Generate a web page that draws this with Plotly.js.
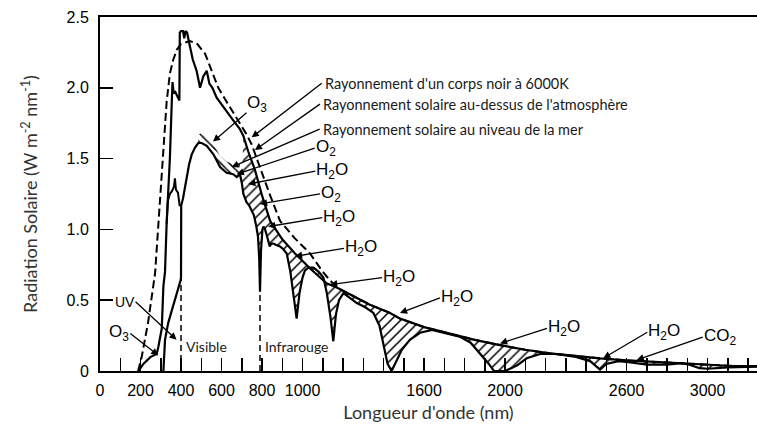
<!DOCTYPE html>
<html><head><meta charset="utf-8">
<script src="https://cdn.plot.ly/plotly-3.0.1.min.js"></script>
<style>html,body{margin:0;padding:0;background:#fff}#chart{width:757px;height:430px}</style>
</head><body><div id="chart"></div>
<script>
// ---- Data ----
// Black body 6000K (dashed)
const bbWl  = [188,206,237,272,296,312,329,345,362,380,400,444,480,519,550,584,630,683,720,749,774,800,840,889,960,1037,1100,1136,1169,1250,1330,1432,1481,1600,1728,1850,1975,2100,2222,2350,2469,2600,2716,2850,2963,3100,3244];
const bbVal = [0,0.1,0.34,0.69,1.2,1.55,1.9,2.1,2.2,2.27,2.31,2.33,2.31,2.24,2.13,2.0,1.89,1.77,1.68,1.6,1.5,1.4,1.24,1.06,0.94,0.83,0.7,0.64,0.59,0.53,0.47,0.41,0.37,0.31,0.265,0.22,0.183,0.15,0.125,0.105,0.089,0.075,0.066,0.052,0.043,0.037,0.034];
// Top of atmosphere (solid)
const toaWl  = [190,214,250,280,288,296,305,313,321,329,337,345,352,358,364,372,382,392,394,400,410,416,422,430,440,458,477,494,510,527,540,555,576,610,658,690,708,732,765,800,840,900,963,1040,1119,1169,1250,1330,1432,1481,1600,1728,1850,1975,2100,2222,2350,2469,2600,2716,2850,2963,3100,3244];
const toaVal = [0,0.05,0.1,0.12,0.17,0.24,0.3,0.6,0.7,1.04,1.25,1.5,1.8,2.04,1.96,1.97,1.94,1.91,2.39,2.4,2.4,2.35,2.4,2.39,2.32,2.2,2.12,2.0,2.08,2.12,2.03,2.0,1.93,1.86,1.77,1.71,1.66,1.55,1.42,1.24,1.06,0.93,0.83,0.72,0.62,0.59,0.53,0.47,0.41,0.37,0.31,0.265,0.22,0.183,0.15,0.125,0.105,0.089,0.075,0.066,0.052,0.043,0.037,0.034];
// UV branch (solid)
const uvWl  = [329,335,345,355,365,370,375,385,393,400];
const uvVal = [1.04,1.2,1.25,1.27,1.3,1.36,1.28,1.26,1.17,1.17];
// Sea level (solid)
const slWl  = [313,317,321,330,337,355,370,385,398,400,401,410,425,440,453,470,485,502,527,545,560,593,625,658,675,691,700,708,716,724,736,749,760,772,780,786,790,795,802,807,815,825,831,838,846,856,870,889,905,922,940,955,971,985,1000,1012,1030,1054,1080,1103,1120,1138,1152,1165,1180,1202,1230,1268,1310,1350,1380,1400,1420,1440,1460,1490,1530,1580,1640,1700,1780,1830,1880,1920,1945,2000,2030,2060,2107,2173,2250,2350,2420,2469,2500,2560,2620,2700,2800,2870,2910,2960,3000,3100,3244];
const slVal = [0,0.1,0.22,0.29,0.34,0.43,0.5,0.58,0.64,0.66,1.17,1.22,1.35,1.46,1.53,1.58,1.61,1.61,1.59,1.56,1.53,1.44,1.4,1.39,1.37,1.39,1.33,1.25,1.22,1.19,1.17,1.13,1.1,1.02,0.95,0.8,0.56,0.85,1.0,1.02,1.0,0.95,0.92,0.88,0.9,0.9,0.89,0.88,0.86,0.83,0.7,0.55,0.37,0.55,0.66,0.71,0.73,0.73,0.7,0.66,0.55,0.38,0.21,0.4,0.5,0.55,0.52,0.48,0.45,0.41,0.32,0.18,0.05,0,0.06,0.15,0.22,0.27,0.29,0.27,0.24,0.2,0.12,0.05,0,0,0.02,0.04,0.09,0.12,0.12,0.1,0.07,0.01,0.05,0.07,0.06,0.045,0.045,0.055,0.045,0.02,0.016,0.025,0.03];
// O3 absorption band (short hatch above sea-level curve)
const o3Wl   = [485,502,527,545,560,593,625,658,691];
const o3Top  = [1.67,1.68,1.66,1.63,1.60,1.52,1.48,1.46,1.46];
const o3Base = [1.61,1.61,1.59,1.56,1.53,1.44,1.40,1.39,1.39];
// Region boundaries
const bandNames = ['Visible','Infrarouge'];
const bandEdgeWl = [400, 790];
const bandEdgeTop = [0.66, 0.56];
// Axis tick labels
const xLabelVals = [0,200,400,600,800,1000,1600,2000,2600,3000];
const yLabelVals = [0,0.5,1.0,1.5,2.0,2.5];
const yLabelText = ['0','0.5','1.0','1.5','2.0','2.5'];
// Absorber labels with arrow tips
const absLabels = ['O<sub>3</sub>','O<sub>2</sub>','H<sub>2</sub>O','O<sub>2</sub>','H<sub>2</sub>O','H<sub>2</sub>O','H<sub>2</sub>O','H<sub>2</sub>O','H<sub>2</sub>O','H<sub>2</sub>O','CO<sub>2</sub>','UV','O<sub>3</sub>'];
const absTipWl  = [558,675,732,790,831,963,1136,1481,1975,2485,2650,378,288];
const absTipVal = [1.62,1.39,1.32,1.18,1.02,0.81,0.61,0.41,0.195,0.09,0.077,0.22,0.11];
const curveLabels = ["Rayonnement d'un corps noir à 6000K","Rayonnement solaire au-dessus de l'atmosphère","Rayonnement solaire au niveau de la mer"];
const curveTipWl  = [749,765,650];
const curveTipVal = [1.65,1.56,1.44];

// ---- Build chart ----
const sliceFrom = (wl, v, start) => { const x=[],y=[]; wl.forEach((w,i)=>{ if(w>=start){x.push(w);y.push(v[i]);} }); return {x,y}; };
const toaIR = sliceFrom(toaWl, toaVal, 700);
const slIR  = sliceFrom(slWl, slVal, 700);

const traces = [
  {x:toaIR.x, y:toaIR.y, mode:'lines', line:{width:0,color:'rgba(0,0,0,0)'}, hoverinfo:'skip'},
  {x:slIR.x, y:slIR.y, mode:'lines', line:{width:0,color:'rgba(0,0,0,0)'}, fill:'tonexty', fillcolor:'rgba(0,0,0,0)',
   fillpattern:{shape:'/', size:7, solidity:0.22, fgcolor:'#000', bgcolor:'rgba(0,0,0,0)'}, hoverinfo:'skip'},
  {x:o3Wl, y:o3Top, mode:'lines', line:{width:0,color:'rgba(0,0,0,0)'}, hoverinfo:'skip'},
  {x:o3Wl, y:o3Base, mode:'lines', line:{width:0,color:'rgba(0,0,0,0)'}, fill:'tonexty', fillcolor:'rgba(0,0,0,0)',
   fillpattern:{shape:'\\', size:6, solidity:0.25, fgcolor:'#000', bgcolor:'rgba(0,0,0,0)'}, hoverinfo:'skip'},
  {x:bbWl, y:bbVal, mode:'lines', line:{color:'#000', width:2, dash:'8px,4px'}},
  {x:toaWl, y:toaVal, mode:'lines', line:{color:'#000', width:2.2}},
  {x:uvWl, y:uvVal, mode:'lines', line:{color:'#000', width:2}},
  {x:slWl, y:slVal, mode:'lines', line:{color:'#000', width:2.2}}
];

const xTickVals = []; for (let v=0; v<=3200; v+=100) xTickVals.push(v);
const xTickText = xTickVals.map(v => xLabelVals.includes(v) ? String(v) : '');

const chemFont = {family:'Liberation Sans, Arial, sans-serif', size:17, color:'#000'};
const calFont  = {family:'Lato, sans-serif', size:14.5, color:'#1a1a1a'};
// text offsets (px) from arrow tip; anchor
const absOffsets = [
  [44,-38,'center'],[78,-26,'left'],[67,-13,'left'],[60,-10,'left'],[54,-9,'left'],[49,-8,'left'],
  [52,-7,'left'],[40,-15,'left'],[47,-15,'left'],[44,-26,'left'],[66,-23,'left'],[-41,-38,'right'],[-28,-22,'right']
];
const curveOffsets = [[70,-54],[65,-46],[88,-38]];

const annotations = [];
absLabels.forEach((t,i)=>{
  const o = absOffsets[i];
  const isSmall = (t==='UV');
  annotations.push({x:absTipWl[i], y:absTipVal[i], xref:'x', yref:'y', text:t, showarrow:true,
    ax:o[0], ay:o[1], xanchor:o[2], yanchor:'middle', arrowhead:2, arrowsize:1.1, arrowwidth:1.3, arrowcolor:'#000',
    font: isSmall ? {family:'Liberation Sans, Arial, sans-serif', size:14, color:'#000'} : chemFont, borderpad:0});
});
curveLabels.forEach((t,i)=>{
  const o = curveOffsets[i];
  annotations.push({x:curveTipWl[i], y:curveTipVal[i], xref:'x', yref:'y', text:t, showarrow:true,
    ax:o[0], ay:o[1], xanchor:'left', yanchor:'middle', arrowhead:2, arrowsize:1.1, arrowwidth:1.3, arrowcolor:'#000',
    font:calFont, borderpad:2});
});
bandNames.forEach((t,i)=>{
  annotations.push({x:bandEdgeWl[i], y:0.17, xref:'x', yref:'y', text:t, showarrow:false, xanchor:'left', yanchor:'middle', xshift:3,
    font:{family:'Lato, sans-serif', size:14, color:'#1a1a1a'}});
});

const shapes = bandEdgeWl.map((w,i)=>({type:'line', xref:'x', yref:'y', x0:w, x1:w, y0:0, y1:bandEdgeTop[i],
  line:{color:'#000', width:1.5, dash:'6px,4px'}}));

const layout = {
  width:757, height:430, margin:{l:100, r:0, t:17, b:59},
  paper_bgcolor:'#fff', plot_bgcolor:'#fff', showlegend:false,
  xaxis:{range:[0,3244], showgrid:false, zeroline:false, showline:true, linewidth:2, linecolor:'#000', mirror:true,
    ticks:'inside', ticklen:13, tickwidth:1.5, tickcolor:'#000', tickmode:'array', tickvals:xTickVals, ticktext:xTickText,
    tickfont:{family:'Liberation Sans, Arial, sans-serif', size:16, color:'#000'}, ticklabelstandoff:4,
    title:{text:"Longueur d'onde (nm)", font:{family:'Lato, sans-serif', size:18, color:'#333'}, standoff:8}},
  yaxis:{range:[0,2.5], showgrid:false, zeroline:false, showline:true, linewidth:2, linecolor:'#000',
    ticks:'inside', ticklen:13, tickwidth:1.5, tickcolor:'#000', tickmode:'array', tickvals:yLabelVals, ticktext:yLabelText,
    tickfont:{family:'Liberation Sans, Arial, sans-serif', size:16, color:'#000'}, ticklabelstandoff:6,
    title:{text:'Radiation Solaire (W m<sup>-2</sup> nm<sup>-1</sup>)', font:{family:'Lato, sans-serif', size:18, color:'#333'}, standoff:24}},
  annotations, shapes
};
Plotly.newPlot('chart', traces, layout, {staticPlot:true, displayModeBar:false});
</script></body></html>
